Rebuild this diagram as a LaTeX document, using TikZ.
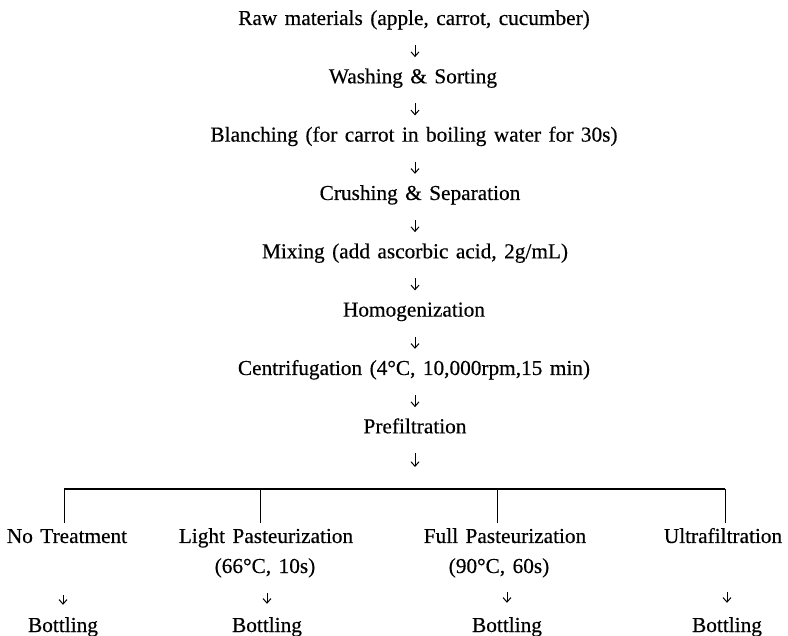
\documentclass[tikz,border=0pt]{standalone}
\usepackage{fontspec}
\setmainfont{Liberation Serif}[WordSpace=1.4,FakeBold=0.4]
\usetikzlibrary{arrows.meta}
\begin{document}
\begin{tikzpicture}[x=1pt,y=-1pt,
  lbl/.style={inner sep=0pt, anchor=base, font=\fontsize{21.3}{24}\selectfont, text height=14pt, text depth=5pt},
  arr/.style={-{Straight Barb[length=4.5pt,width=8pt]}, line width=1pt},
  barline/.style={line width=1.3pt},
  drop/.style={line width=1pt}]
\useasboundingbox (0,0) rectangle (788,636);
% main chain
\node[lbl] (raw)     at (414,25)    {Raw materials (apple, carrot, cucumber)};
\node[lbl] (wash)    at (413,83.3)  {Washing \& Sorting};
\node[lbl] (blanch)  at (414,141.6) {Blanching (for carrot in boiling water for 30s)};
\node[lbl] (crush)   at (420,200)   {Crushing \& Separation};
\node[lbl] (mix)     at (415,258.3) {Mixing (add ascorbic acid, 2g/mL)};
\node[lbl] (homo)    at (414,316.6) {Homogenization};
\node[lbl] (centri)  at (414,375)   {Centrifugation (4°C, 10,000rpm,15 min)};
\node[lbl] (prefilt) at (415,433.3) {Prefiltration};
\foreach \a/\b in {raw/wash,wash/blanch,blanch/crush,crush/mix,mix/homo,homo/centri,centri/prefilt}
  \draw[arr, shorten <=15pt, shorten >=12pt] (\a.south -| prefilt.south) -- (\b.north -| prefilt.south);
% branching
\coordinate (top) at (415,489);
\coordinate (j1) at (64,489);
\coordinate (j2) at (260,489);
\coordinate (j3) at (497,489);
\coordinate (j4) at (725,489);
\draw[arr, shorten <=15pt, shorten >=22pt] (prefilt.south) -- (prefilt.south |- top);
\draw[barline] (j1) -- (j4);
\node[lbl] (notreat) at (67,543)  {No Treatment};
\node[lbl] (light)   at (266,543) {Light Pasteurization};
\node[lbl] (lightc)  at (265,573) {(66°C, 10s)};
\node[lbl] (full)    at (505,543) {Full Pasteurization};
\node[lbl] (fullc)   at (499,573) {(90°C, 60s)};
\node[lbl] (ultra)   at (723,543) {Ultrafiltration};
\node[lbl] (b1) at (63,632)  {Bottling};
\node[lbl] (b2) at (267,632) {Bottling};
\node[lbl] (b3) at (507,632) {Bottling};
\node[lbl] (b4) at (727,632) {Bottling};
\draw[drop, shorten >=6pt] (j1) -- (j1 |- notreat.north);
\draw[drop, shorten >=6pt] (j2) -- (j2 |- light.north);
\draw[drop, shorten >=6pt] (j3) -- (j3 |- full.north);
\draw[drop, shorten >=6pt] (j4) -- (j4 |- ultra.north);
\draw[arr, shorten <=47pt, shorten >=13pt] (notreat.south -| b1.north) -- (b1.north);
\draw[arr, shorten <=15pt, shorten >=14pt] (lightc.south -| b2.north) -- (b2.north);
\draw[arr, shorten <=14pt, shorten >=15pt] (fullc.south -| b3.north) -- (b3.north);
\draw[arr, shorten <=44pt, shorten >=15pt] (ultra.south -| b4.north) -- (b4.north);
\end{tikzpicture}
\end{document}
